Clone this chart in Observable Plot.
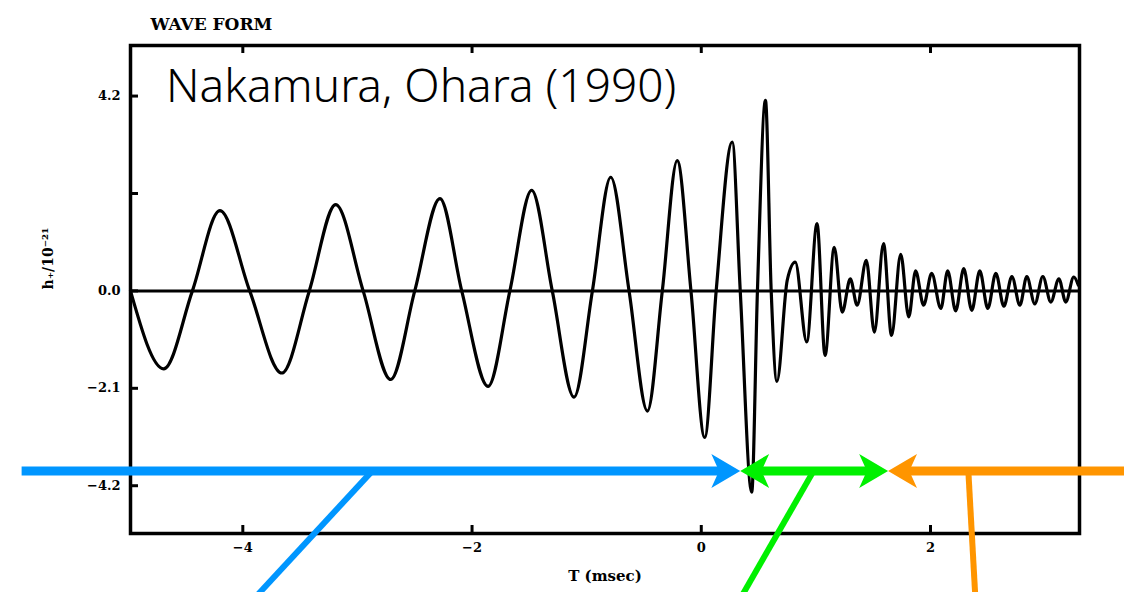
<!DOCTYPE html>
<html><head><meta charset="utf-8">
<script src="https://cdn.jsdelivr.net/npm/d3@7"></script>
<script src="https://cdn.jsdelivr.net/npm/@observablehq/plot@0.6"></script>
<style>html,body{margin:0;padding:0;background:#fff;} #chart{width:1124px;height:592px;overflow:hidden}</style>
</head><body><div id="chart"></div>
<script>
// Waveform h+ (units 1e-21) vs T (msec)
const waveT = [-4.98,-4.69,-4.44,-4.20,-3.94,-3.66,-3.42,-3.19,-2.95,-2.71,
  -2.50,-2.28,-2.09,-1.86,-1.67,-1.48,-1.30,-1.11,-0.95,-0.79,
  -0.63,-0.47,-0.34,-0.21,-0.09,0.03,0.13,0.27,0.34,0.44,
  0.49,0.56,0.61,0.66,0.75,0.82,0.92,1.01,1.08,1.16,
  1.23,1.30,1.36,1.44,1.51,1.59,1.66,1.74,1.81,1.87,
  1.94,2.01,2.09,2.15,2.22,2.29,2.36,2.43,2.50,2.57,
  2.64,2.71,2.78,2.84,2.91,2.98,3.05,3.12,3.18,3.25,3.29];
const waveH = [0,-1.68,0,1.73,0,-1.77,0,1.86,0,-1.91,
  0,1.99,0,-2.06,0,2.17,0,-2.29,0,2.45,
  0,-2.59,0,2.81,0,-3.16,0,3.21,0,-4.34,
  0,4.11,0,-1.95,0.23,0.62,-1.10,1.45,-1.39,0.94,
  -0.46,0.26,-0.31,0.66,-0.89,1.02,-0.96,0.79,-0.56,0.43,
  -0.31,0.38,-0.38,0.43,-0.43,0.48,-0.42,0.43,-0.38,0.38,
  -0.33,0.31,-0.31,0.31,-0.28,0.31,-0.24,0.26,-0.24,0.30,0.12];

const xTicks = [-4, -2, 0, 2];
const xTickLabels = ["−4", "−2", "0", "2"];
const yTicks = [4.2, 2.1, 0, -2.1, -4.2];
const yTickLabels = ["4.2", "", "0.0", "−2.1", "−4.2"];
const xDomain = [-4.98, 3.30];
const yDomain = [-5.23, 5.29];

const titleText = "WAVE FORM";
const xLabel = "T (msec)";
const yLabel = "h₊/10⁻²¹";
const noteText = "Nakamura, Ohara (1990)";

// Annotation overlay (phase arrows), in data units
const phaseNames = ["blue", "green", "orange"];
const phaseColors = ["#0096ff", "#00f000", "#ff9500"];
const bandY = -3.88;
const bandStart = [-5.93, 0.34, 1.63];
const bandEnd = [0.34, 1.63, 3.70];
const legStartX = [-2.87, 0.98, 2.33];
const legEndX = [-3.87, 0.36, 2.39];
const legBottomY = -6.55;

const wave = waveT.map((t, i) => ({t, h: waveH[i]}));

const headSymbol = {
  draw(ctx, size) {
    const s = Math.sqrt(size / Math.PI);
    ctx.moveTo(0, 0);
    ctx.lineTo(-1.7 * s, -1 * s);
    ctx.lineTo(-1.25 * s, 0);
    ctx.lineTo(-1.7 * s, 1 * s);
    ctx.closePath();
  }
};

const headLen = 0.13;
const bands = [
  {c: phaseColors[0], x1: bandStart[0], x2: bandEnd[0] - headLen},
  {c: phaseColors[1], x1: bandStart[1] + headLen, x2: bandEnd[1] - headLen},
  {c: phaseColors[2], x1: bandStart[2] + headLen, x2: bandEnd[2]}
];
const heads = [
  {c: phaseColors[0], x: bandEnd[0], r: 0},
  {c: phaseColors[1], x: bandStart[1], r: 180},
  {c: phaseColors[1], x: bandEnd[1], r: 0},
  {c: phaseColors[2], x: bandStart[2], r: 180}
];
const legs = phaseNames.map((n, i) => ({c: phaseColors[i], x1: legStartX[i], x2: legEndX[i]}));

const tickLenX = 8 / 114.6, tickLenY = 8 / 46.4;
const labelFont = "'DejaVu Serif', 'Liberation Serif', serif";

const chart = Plot.plot({
  width: 1124, height: 592,
  marginLeft: 130, marginRight: 45, marginTop: 45, marginBottom: 59,
  style: {fontFamily: labelFont, background: "#fff", overflow: "visible"},
  x: {domain: xDomain},
  y: {domain: yDomain},
  marks: [
    Plot.frame({stroke: "#000", strokeWidth: 3.5}),
    Plot.ruleY([0], {stroke: "#000", strokeWidth: 3}),
    Plot.ruleY(yTicks, {y: d => d, x1: xDomain[0], x2: xDomain[0] + tickLenX, stroke: "#000", strokeWidth: 3}),
    Plot.ruleX(xTicks, {x: d => d, y1: yDomain[0], y2: yDomain[0] + tickLenY, stroke: "#000", strokeWidth: 3}),
    Plot.ruleX(xTicks, {x: d => d, y1: yDomain[1], y2: yDomain[1] - tickLenY, stroke: "#000", strokeWidth: 3}),
    Plot.axisY({ticks: yTicks, tickSize: 0, tickPadding: 10, fontSize: 13, fontWeight: "bold",
      tickFormat: d => yTickLabels[yTicks.indexOf(d)], label: null}),
    Plot.axisX({ticks: xTicks, tickSize: 0, tickPadding: 9, fontSize: 13, fontWeight: "bold",
      tickFormat: d => xTickLabels[xTicks.indexOf(d)], label: null}),
    Plot.line(wave, {x: "t", y: "h", curve: "monotone-x", stroke: "#000", strokeWidth: 3.2}),
    Plot.text([titleText], {frameAnchor: "top-left", dx: 20, dy: -28, text: d => d, textAnchor: "start",
      fontSize: 17, fontWeight: "bold", fill: "#000"}),
    Plot.text([xLabel], {frameAnchor: "bottom", dx: 0, dy: 47, text: d => d,
      fontSize: 15, fontWeight: "bold", fill: "#000"}),
    Plot.text([yLabel], {frameAnchor: "left", dx: -82, dy: 0, rotate: -90, text: d => d,
      fontSize: 14, fontWeight: "bold", fill: "#000"}),
    Plot.text([noteText], {x: -4.67, y: 4.38, text: d => d, textAnchor: "start",
      fontSize: 46, fontFamily: "'Noto Sans', 'Open Sans', sans-serif", fontWeight: 300, fill: "#000"}),
    Plot.link(bands, {x1: "x1", x2: "x2", y1: bandY, y2: bandY, stroke: "c", strokeWidth: 9}),
    Plot.link(legs, {x1: "x1", x2: "x2", y1: bandY, y2: legBottomY, stroke: "c", strokeWidth: 6}),
    Plot.dot(heads, {x: "x", y: bandY, r: 17, rotate: "r", symbol: headSymbol, fill: "c", stroke: null})
  ]
});
document.getElementById("chart").appendChild(chart);
</script>
</body></html>
